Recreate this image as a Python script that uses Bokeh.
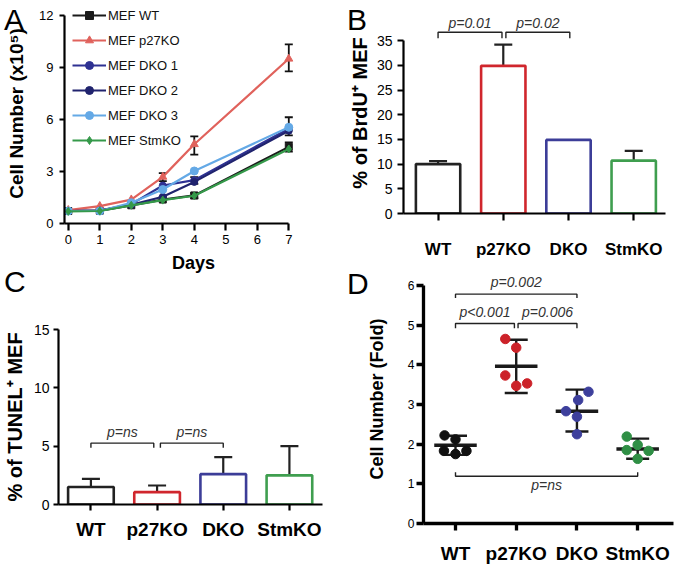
from bokeh.plotting import figure
from bokeh.models import (Range1d, FixedTicker, Whisker, TeeHead, ColumnDataSource,
                          Legend, LegendItem, Div)
from bokeh.layouts import row, column
from bokeh.core.properties import value
from bokeh.embed import file_html
from bokeh.resources import INLINE

FONT = "Liberation Sans"

# ---------------- Panel A data (cell number x10^5) ----------------
days = [0, 1, 2, 3, 4, 7]
a_wt = [0.72, 0.74, 1.05, 1.38, 1.62, 4.42]
a_p27 = [0.77, 1.00, 1.38, 2.69, 4.57, 9.50]
a_dko1 = [0.72, 0.75, 1.12, 2.19, 2.50, 5.47]
a_dko2 = [0.72, 0.74, 1.08, 1.54, 2.40, 5.35]
a_dko3 = [0.72, 0.72, 1.20, 1.96, 3.03, 5.55]
a_stm = [0.70, 0.72, 1.05, 1.35, 1.60, 4.30]
a_labels = ["MEF WT", "MEF p27KO", "MEF DKO 1", "MEF DKO 2", "MEF DKO 3", "MEF StmKO"]
a_err_day = [3, 4, 7, 4, 7, 4, 7]
a_err_lo = [2.45, 3.97, 8.77, 1.45, 4.15, 2.28, 5.08]
a_err_hi = [2.90, 5.03, 10.33, 1.75, 4.68, 2.68, 6.13]

# ---------------- Panels B, C, D data ----------------
groups = ["WT", "p27KO", "DKO", "StmKO"]
brdu_mean = [10.0, 29.9, 14.9, 10.7]
brdu_err = [0.6, 4.3, 0.0, 2.0]
brdu_pvals = ["p=0.01", "p=0.02"]

tunel_mean = [1.50, 1.06, 2.60, 2.50]
tunel_err = [0.70, 0.57, 1.46, 2.50]
tunel_pvals = ["p=ns", "p=ns"]

fold_wt = [2.22, 2.12, 1.83, 1.75, 1.83]
fold_p27 = [4.65, 4.43, 3.73, 3.47, 3.53]
fold_dko = [3.32, 3.11, 2.83, 2.69, 2.25]
fold_stm = [2.19, 1.98, 1.85, 1.83, 1.63]
fold_mean = [1.97, 3.96, 2.83, 1.88]
fold_lo = [1.73, 3.29, 2.32, 1.63]
fold_hi = [2.21, 4.63, 3.375, 2.14]
fold_pvals = ["p=0.002", "p<0.001", "p=0.006", "p=ns"]
# beeswarm jitter of the five points in each group
fold_jitter = [[-0.18, 0.0, -0.19, 0.0, 0.18],
               [-0.18, 0.0, -0.18, 0.0, 0.18],
               [0.19, 0.02, -0.18, 0.0, 0.0],
               [-0.18, 0.0, -0.18, 0.18, 0.0]]

A_COLORS = ["#1a1a1a", "#e0625c", "#2e3192", "#20236e", "#64a9e6", "#35994a"]
A_MARKERS = ["square", "triangle", "circle", "circle", "circle", "diamond"]
A_SIZES = [7, 8, 7, 7, 8, 8]
BAR_COLORS = ["#222222", "#d0262d", "#3c3d98", "#3f9e4f"]
DOT_COLORS = ["#111111", "#cc2229", "#3d3f9c", "#2f8f45"]


def make_fig(w, h, xr, yr, mb):
    p = figure(width=w, height=h, x_range=Range1d(*xr), y_range=Range1d(*yr),
               output_backend="svg", toolbar_location=None,
               min_border_left=mb[0], min_border_right=mb[1],
               min_border_top=mb[2], min_border_bottom=mb[3])
    p.outline_line_color = None
    p.xgrid.visible = False
    p.ygrid.visible = False
    p.background_fill_color = "white"
    p.border_fill_color = "white"
    return p


def style_axis(ax, lw, tick_out, tick_size, tick_style, tick_standoff,
               title, title_size, title_standoff):
    ax.axis_line_width = lw
    ax.axis_line_color = "black"
    ax.major_tick_line_width = lw
    ax.major_tick_line_color = "black"
    ax.major_tick_out = tick_out
    ax.major_tick_in = 0
    ax.minor_tick_line_color = None
    ax.major_label_text_font = FONT
    ax.major_label_text_font_size = tick_size
    ax.major_label_text_font_style = tick_style
    ax.major_label_text_color = "black"
    ax.major_label_standoff = tick_standoff
    if title:
        ax.axis_label = title
        ax.axis_label_text_font = FONT
        ax.axis_label_text_font_size = title_size
        ax.axis_label_text_font_style = "bold"
        ax.axis_label_text_color = "black"
        ax.axis_label_standoff = title_standoff


def letter_div(txt, left, top):
    return Div(text=txt, width=30, height=32,
               styles={"position": "absolute", "left": f"{left}px", "top": f"{top}px",
                       "font-size": "30px", "font-family": FONT, "line-height": "1",
                       "color": "black", "z-index": "10"})


def bracket(p, x0, x1, y, tip, txt, ty):
    p.line([x0, x0, x1, x1], [y - tip, y, y, y - tip], line_color="#222222", line_width=1.4)
    p.text(x=[(x0 + x1) / 2], y=[ty], text=[txt], text_font=value(FONT),
           text_font_style="italic", text_font_size="14px", text_align="center",
           text_baseline="middle", text_color="#333333")


# ---------------- Panel A ----------------
pA = make_fig(340, 280, (-0.12, 8.07), (0, 12.69), (64, 18, 3, 57))
items = []
for vals, col, mk, sz, lab in zip([a_wt, a_p27, a_dko1, a_dko2, a_dko3, a_stm],
                                  A_COLORS, A_MARKERS, A_SIZES, a_labels):
    src = ColumnDataSource(dict(x=days, y=vals))
    r1 = pA.line("x", "y", source=src, line_color=col, line_width=2.2)
    r2 = pA.scatter("x", "y", source=src, marker=mk, size=sz, color=col)
    items.append(LegendItem(label=lab, renderers=[r1, r2]))
esrc = ColumnDataSource(dict(base=a_err_day, lower=a_err_lo, upper=a_err_hi))
pA.add_layout(Whisker(source=esrc, base="base", lower="lower", upper="upper",
                      line_color="#111111", line_width=1.8,
                      upper_head=TeeHead(size=8, line_width=1.8, line_color="#111111"),
                      lower_head=TeeHead(size=8, line_width=1.8, line_color="#111111")))
leg = Legend(items=items, location=(8, 73), glyph_width=34, glyph_height=20,
             label_height=20, label_standoff=2, spacing=5, padding=0, margin=0,
             label_text_font=FONT, label_text_font_size="13px", label_text_color="#111111",
             border_line_color=None, background_fill_alpha=0)
pA.add_layout(leg)
pA.xaxis.ticker = FixedTicker(ticks=list(range(8)))
pA.yaxis.ticker = FixedTicker(ticks=[0, 3, 6, 9, 12])
pA.xaxis.bounds = (-0.12, 7)
pA.yaxis.bounds = (0, 12)
style_axis(pA.xaxis[0], 2.2, 7, "13px", "normal", 4, "Days", "18px", 6)
style_axis(pA.yaxis[0], 2.2, 5, "13px", "normal", 6, "Cell Number (x10\u2075)", "19px", 9)

# ---------------- Panel B ----------------
idx = list(range(len(groups)))
pB = make_fig(336, 274, (-0.53, 3.61), (0, 40.7), (63, 3, 12, 61))
pB.vbar(x=idx, top=brdu_mean, width=0.68, fill_color="white",
        line_color=BAR_COLORS, line_width=2.6)
bi = [i for i in idx if brdu_err[i] > 0]
bsrc = ColumnDataSource(dict(base=bi, lower=[brdu_mean[i] for i in bi],
                             upper=[brdu_mean[i] + brdu_err[i] for i in bi]))
pB.add_layout(Whisker(source=bsrc, base="base", lower="lower", upper="upper",
                      line_color="#222222", line_width=2.2, lower_head=None,
                      upper_head=TeeHead(size=18, line_width=2.2, line_color="#222222")))
bracket(pB, 0, 0.98, 36.7, 1.2, brdu_pvals[0], 38.5)
bracket(pB, 1.04, 2.02, 36.7, 1.2, brdu_pvals[1], 38.5)
pB.xaxis.ticker = FixedTicker(ticks=idx)
pB.xaxis.major_label_overrides = {i: g for i, g in zip(idx, groups)}
pB.xaxis.bounds = (-0.53, 3.49)
pB.yaxis.ticker = FixedTicker(ticks=[0, 5, 10, 15, 20, 25, 30, 35])
pB.yaxis.bounds = (0, 35)
style_axis(pB.xaxis[0], 2.2, 7, "17px", "bold", 19, None, None, 0)
style_axis(pB.yaxis[0], 2.2, 6, "14px", "normal", 5, "% of BrdU\u207a MEF", "20px", 3)

# ---------------- Panel C ----------------
pC = make_fig(340, 286, (-0.49, 3.5), (0, 15), (58, 18, 49, 62))
pC.vbar(x=idx, top=tunel_mean, width=0.69, fill_color="white",
        line_color=BAR_COLORS, line_width=2.6)
csrc = ColumnDataSource(dict(base=idx, lower=tunel_mean,
                             upper=[m + e for m, e in zip(tunel_mean, tunel_err)]))
pC.add_layout(Whisker(source=csrc, base="base", lower="lower", upper="upper",
                      line_color="#222222", line_width=2.2, lower_head=None,
                      upper_head=TeeHead(size=18, line_width=2.2, line_color="#222222")))
bracket(pC, 0, 0.95, 5.26, 0.39, tunel_pvals[0], 6.25)
bracket(pC, 1.05, 2.0, 5.26, 0.39, tunel_pvals[1], 6.25)
pC.xaxis.ticker = FixedTicker(ticks=idx)
pC.xaxis.major_label_overrides = {i: g for i, g in zip(idx, groups)}
pC.yaxis.ticker = FixedTicker(ticks=[0, 5, 10, 15])
style_axis(pC.xaxis[0], 2.2, 6, "19px", "bold", 8, None, None, 0)
style_axis(pC.yaxis[0], 2.2, 5, "14px", "normal", 4, "% of TUNEL\u207a MEF", "20px", 5)

# ---------------- Panel D ----------------
pD = make_fig(336, 292, (-0.527, 3.59), (0, 6.275), (83, 3, 0, 41))
for i in idx:
    pD.segment(x0=[i - 0.35], x1=[i + 0.35], y0=[fold_mean[i]], y1=[fold_mean[i]],
               line_color="#1a1a1a", line_width=3.5)
dsrc = ColumnDataSource(dict(base=idx, lower=fold_lo, upper=fold_hi))
pD.add_layout(Whisker(source=dsrc, base="base", lower="lower", upper="upper",
                      line_color="#1a1a1a", line_width=2.4, level="underlay",
                      upper_head=TeeHead(size=23, line_width=2.4, line_color="#1a1a1a"),
                      lower_head=TeeHead(size=23, line_width=2.4, line_color="#1a1a1a")))
for i, vals in enumerate([fold_wt, fold_p27, fold_dko, fold_stm]):
    xs = [i + j for j in fold_jitter[i]]
    pD.scatter(xs, vals, marker="circle", size=9.5, color=DOT_COLORS[i])
bracket(pD, 0, 2.0, 5.78, 0.1, fold_pvals[0], 6.08)
bracket(pD, 0, 0.97, 5.04, 0.12, fold_pvals[1], 5.33)
bracket(pD, 1.03, 2.0, 5.04, 0.12, fold_pvals[2], 5.33)
bracket(pD, 0, 3.0, 1.19, -0.1, fold_pvals[3], 0.96)
pD.xaxis.ticker = FixedTicker(ticks=idx)
pD.xaxis.major_label_overrides = {i: g for i, g in zip(idx, groups)}
pD.yaxis.ticker = FixedTicker(ticks=[0, 1, 2, 3, 4, 5, 6])
pD.yaxis.bounds = (0, 6)
style_axis(pD.xaxis[0], 3.3, 7, "19px", "bold", 12, None, None, 0)
style_axis(pD.yaxis[0], 3.3, 7, "12px", "normal", 2, "Cell Number (Fold)", "18px", 18)

letters = [letter_div("A", -1, 0), letter_div("B", 342, 0),
           letter_div("C", -1, 262), letter_div("D", 342, 264)]
layout = row(column(row(pA), row(pC)), column(row(pB), row(pD)), *letters)
open("out.html", "w").write(file_html(layout, INLINE))
